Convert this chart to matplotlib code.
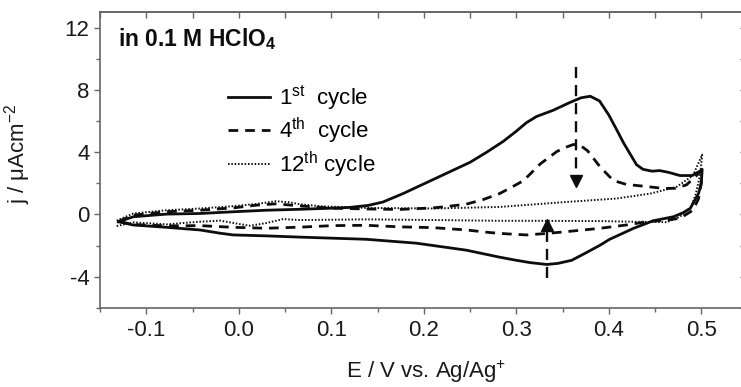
import matplotlib
matplotlib.use("Agg")
import matplotlib.pyplot as plt
from matplotlib.ticker import MultipleLocator, FormatStrFormatter

plt.rcParams["font.family"] = ["Liberation Sans", "DejaVu Sans"]
plt.rcParams["mathtext.fontset"] = "custom"
plt.rcParams["mathtext.rm"] = "Liberation Sans"
plt.rcParams["mathtext.it"] = "Liberation Sans:italic"
plt.rcParams["mathtext.bf"] = "Liberation Sans:bold"
plt.rcParams["axes.unicode_minus"] = False
plt.rcParams["lines.scale_dashes"] = False

# cyclic voltammograms: forward (anodic) and reverse sweeps, E in V, j in uA/cm2
e1_fwd = [-0.130, -0.114, -0.078, -0.042, -0.006, 0.030, 0.066, 0.100, 0.120, 0.140,
          0.156, 0.178, 0.196, 0.214, 0.232, 0.250, 0.268, 0.286, 0.300, 0.311,
          0.322, 0.340, 0.358, 0.370, 0.380, 0.390, 0.400, 0.409, 0.416, 0.423,
          0.430, 0.437, 0.447, 0.455, 0.465, 0.477, 0.490, 0.499]
j1_fwd = [-0.47, -0.15, 0.02, 0.06, 0.17, 0.27, 0.33, 0.40, 0.45, 0.58,
          0.80, 1.35, 1.85, 2.35, 2.85, 3.35, 4.00, 4.70, 5.35, 5.90,
          6.30, 6.70, 7.20, 7.50, 7.60, 7.30, 6.40, 5.40, 4.60, 3.90,
          3.20, 2.90, 2.78, 2.82, 2.70, 2.50, 2.50, 2.80]
e1_rev = [0.501, 0.500, 0.497, 0.488, 0.480, 0.470, 0.448, 0.427, 0.401, 0.390,
          0.376, 0.360, 0.345, 0.333, 0.315, 0.300, 0.282, 0.246, 0.192, 0.138,
          0.066, 0.030, -0.006, -0.020, -0.042, -0.078, -0.114, -0.130]
j1_rev = [2.90, 2.00, 1.34, 0.38, 0.10, -0.15, -0.41, -0.89, -1.60, -2.00,
          -2.45, -2.95, -3.15, -3.22, -3.10, -2.95, -2.75, -2.30, -1.85, -1.60,
          -1.46, -1.38, -1.32, -1.21, -1.00, -0.83, -0.68, -0.47]

e4_fwd = [-0.130, -0.114, -0.078, -0.042, -0.006, 0.020, 0.040, 0.066, 0.102, 0.138,
          0.174, 0.210, 0.228, 0.246, 0.264, 0.282, 0.295, 0.308, 0.326, 0.344,
          0.355, 0.362, 0.370, 0.377, 0.391, 0.405, 0.419, 0.440, 0.459, 0.472,
          0.484, 0.494, 0.500]
j4_fwd = [-0.45, -0.05, 0.17, 0.27, 0.42, 0.60, 0.68, 0.55, 0.40, 0.35,
          0.32, 0.42, 0.53, 0.66, 0.95, 1.34, 1.75, 2.18, 3.25, 4.05,
          4.35, 4.50, 4.40, 4.10, 3.03, 2.18, 1.93, 1.80, 1.67, 1.68,
          1.90, 2.45, 2.80]
e4_rev = [0.500, 0.497, 0.491, 0.477, 0.463, 0.441, 0.419, 0.391, 0.354, 0.336,
          0.311, 0.290, 0.272, 0.246, 0.210, 0.174, 0.138, 0.102, 0.066, 0.030,
          -0.006, -0.042, -0.078, -0.114, -0.130]
j4_rev = [2.00, 1.00, 0.27, -0.25, -0.36, -0.47, -0.68, -0.89, -1.11, -1.21,
          -1.32, -1.25, -1.17, -1.00, -0.85, -0.80, -0.70, -0.72, -0.82, -0.89,
          -0.83, -0.72, -0.74, -0.65, -0.45]

e12_fwd = [-0.132, -0.114, -0.078, -0.042, -0.006, 0.020, 0.040, 0.055, 0.066, 0.090,
           0.138, 0.210, 0.282, 0.354, 0.408, 0.445, 0.473, 0.491, 0.497, 0.501]
j12_fwd = [-0.40, 0.06, 0.27, 0.38, 0.53, 0.68, 0.85, 0.78, 0.65, 0.52,
           0.42, 0.38, 0.48, 0.80, 1.02, 1.34, 1.76, 2.50, 3.30, 3.85]
e12_rev = [0.501, 0.499, 0.494, 0.489, 0.477, 0.463, 0.427, 0.391, 0.318, 0.282,
           0.210, 0.138, 0.066, 0.048, 0.030, 0.012, -0.006, -0.020, -0.042, -0.078,
           -0.114, -0.132]
j12_rev = [3.85, 2.60, 1.30, 0.48, -0.15, -0.50, -0.47, -0.43, -0.41, -0.41,
           -0.36, -0.32, -0.36, -0.30, -0.55, -0.73, -0.55, -0.40, -0.47, -0.64,
           -0.51, -0.75]

cycle_labels = [r"1$^{\mathrm{st}}$  cycle", r"4$^{\mathrm{th}}$  cycle",
                r"12$^{\mathrm{th}}$ cycle"]

# arrows showing the peak decay with cycling: E, shaft start, arrow tip
arrow_e = [0.365, 0.333]
arrow_start = [9.5, -4.1]
arrow_tip = [1.8, -0.3]

fig = plt.figure(figsize=(7.41, 3.87), dpi=100)
ax = fig.add_axes([100 / 741, 1 - 307.7 / 387, 647.5 / 741, 295.4 / 387])

ink = "#0d0d0d"
ax.plot(e1_fwd + e1_rev, j1_fwd + j1_rev, color=ink, lw=2.0, label=cycle_labels[0])
ax.plot(e4_fwd + e4_rev, j4_fwd + j4_rev, color=ink, lw=2.0, dashes=(7, 5),
        label=cycle_labels[1])
ax.plot(e12_fwd + e12_rev, j12_fwd + j12_rev, color=ink, lw=1.4, dashes=(1.1, 1.3),
        label=cycle_labels[2])

head = 0.75
for x, y0, y1 in zip(arrow_e, arrow_start, arrow_tip):
    sign = 1 if y1 > y0 else -1
    ax.plot([x, x], [y0, y1 - sign * head], color=ink, lw=1.7, dashes=(8, 5))
    ax.plot(x, y1 - sign * head / 2, marker="^" if sign > 0 else "v",
            ms=9, color=ink, mec=ink)

ax.set_xlim(-0.15, 0.55)
ax.set_ylim(-6, 13)
ax.xaxis.set_major_locator(MultipleLocator(0.1))
ax.xaxis.set_minor_locator(MultipleLocator(0.05))
ax.xaxis.set_major_formatter(FormatStrFormatter("%.1f"))
ax.yaxis.set_major_locator(MultipleLocator(4))
ax.yaxis.set_minor_locator(MultipleLocator(2))

frame = "#666666"
for s in ax.spines.values():
    s.set_color(frame)
    s.set_linewidth(1.2)
ax.tick_params(which="both", direction="out", color=frame, width=1.0,
               labelsize=16, labelcolor="#1a1a1a", top=False, right=False)
ax.tick_params(which="major", length=4.5)
ax.tick_params(which="minor", length=3)
ax.tick_params(axis="x", pad=4)
ax.tick_params(axis="y", pad=3)

# inward ticks on the opposite sides
top = ax.secondary_xaxis("top")
top.xaxis.set_major_locator(MultipleLocator(0.05))
top.tick_params(direction="in", length=4, color=frame, width=1.0, labeltop=False)
top.spines["top"].set_color(frame)
top.spines["top"].set_linewidth(1.2)
right = ax.secondary_yaxis("right")
right.yaxis.set_major_locator(MultipleLocator(2))
right.tick_params(direction="in", length=6, color=frame, width=1.0, labelright=False)

ax.set_xlabel("E / V vs. Ag/Ag$^{+}$", fontsize=16, color="#1a1a1a")
ax.xaxis.set_label_coords(0.503, -0.172)
ax.xaxis.label.set_va("top")
ax.set_ylabel("j / μAcm$^{-2}$", fontsize=16, color="#1a1a1a")
ax.yaxis.set_label_coords(-0.103, 0.52)

ax.text(0.028, 0.884, r"in 0.1 M HClO$_{\mathbf{4}}$", transform=ax.transAxes,
        fontsize=16.5, fontweight="bold", color=ink, va="baseline")

ax.legend(loc="upper left", bbox_to_anchor=(0.198, 0.76), frameon=False,
          fontsize=16, handlelength=1.9, handletextpad=0.4, labelspacing=0.16,
          borderpad=0, borderaxespad=0)

fig.savefig("out.png", dpi=100)
